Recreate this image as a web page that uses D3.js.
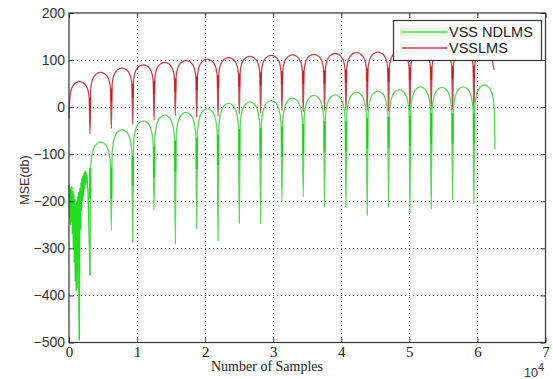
<!DOCTYPE html>
<html>
<head>
<meta charset="utf-8">
<script src="https://cdn.jsdelivr.net/npm/d3@7/dist/d3.min.js"></script>
<style>
  body { margin: 0; background: #fff; }
  svg { display: block; }
</style>
</head>
<body>
<svg width="553" height="379"></svg>
<script>
// Data ========================================================
// x is in samples, y is in dB

var xTicks = [0, 10000, 20000, 30000, 40000, 50000, 60000, 70000];
var yTicks = [200, 100, 0, -100, -200, -300, -400, -500];

// where both curves notch down
var dipSamples = [3085, 6220, 9360, 12490, 15620, 18760, 21890, 25020, 28150, 31280,
                  34410, 37540, 40680, 43810, 46950, 50080, 53210, 56350, 59480];

// VSSLMS (red)
var redStart = [0, -25];
var redEnd = [62440, 79];
var redPeaks = [54, 74, 83, 90, 95, 99, 102, 105, 108, 110, 111, 112, 114, 116, 117, 119, 120, 121, 122, 122];
var redDips = [-57, -45, -36, -28, -17, -22, -19, -14, -12, -7, -9, -7, -6, -7, -9, -10, -6, -6, -9];
// shape of one arch : [fraction of the arch width, dB under the peak]
var redArch = [[0.04, -34], [0.1, -18], [0.2, -8], [0.33, -2.5], [0.5, 0],
               [0.67, -2.5], [0.8, -8], [0.9, -18], [0.96, -34]];

// VSS NDLMS (green)
var greenHead = [[0, -165], [100, -235], [150, -170], [220, -250], [290, -175], [360, -245],
                 [430, -168], [500, -270], [570, -178], [640, -300], [710, -185], [780, -330],
                 [850, -195], [920, -370], [990, -205], [1060, -390], [1130, -200], [1200, -385],
                 [1270, -190], [1340, -320], [1400, -180], [1470, -430], [1513, -496], [1560, -300],
                 [1616, -172], [1689, -260], [1763, -160], [1840, -220], [1910, -150], [1983, -200],
                 [2057, -145], [2130, -190], [2204, -140], [2280, -175], [2350, -135], [2420, -165],
                 [2497, -138], [2570, -160], [2644, -145], [2720, -170], [2791, -175], [2880, -230],
                 [2960, -270]];
var greenEnd = [62580, -90];
var greenPeaks = [-74, -48, -29, -17, -11, -3, 8, 11, 14, 19, 25, 26, 32, 34, 37, 43, 42, 43, 47];
var greenDips = [-357, -262, -287, -219, -290, -258, -283, -247, -247, -201, -191, -212, -212, -230,
                 -212, -224, -216, -196, -205];
var greenArch = [[0.04, -48], [0.1, -26], [0.2, -11], [0.33, -3.5], [0.5, 0],
                 [0.67, -3.5], [0.8, -11], [0.9, -26], [0.96, -48]];

var seriesNames = ["VSS NDLMS", "VSSLMS"];
var seriesColors = ["#5ad65a", "#c2454f"];

// Setup =======================================================

var svg = d3.select("svg");
var margin = { left: 69, right: 545.5, top: 13, bottom: 342.5 };

var x = d3.scaleLinear().domain([0, 70000]).range([margin.left, margin.right]);
var y = d3.scaleLinear().domain([-500, 200]).range([margin.bottom, margin.top]);

var line = d3.line()
    .x(function(d) { return x(d[0]); })
    .y(function(d) { return y(d[1]); })
    .curve(d3.curveMonotoneX);

var rawLine = d3.line()
    .x(function(d) { return x(d[0]); })
    .y(function(d) { return y(d[1]); });

// Helpers =====================================================

// points of one arch between two notches
function archPoints(x0, x1, v0, v1, peak, shape) {
  var pts = [[x0, v0]];
  shape.forEach(function(p) {
    pts.push([x0 + p[0] * (x1 - x0), peak + p[1]]);
  });
  pts.push([x1, v1]);
  return pts;
}

function buildSeries(bounds, values, peaks, shape) {
  var pts = [];
  for (var i = 0; i < peaks.length; i++) {
    var a = archPoints(bounds[i], bounds[i + 1], values[i], values[i + 1], peaks[i], shape);
    if (i > 0) a.shift();
    pts = pts.concat(a);
  }
  return pts;
}

// Grid ========================================================

var grid = svg.append("g").attr("class", "grid")
    .attr("stroke", "#555")
    .attr("stroke-width", 1)
    .attr("stroke-dasharray", "1,3");

grid.selectAll(".vx")
    .data(xTicks.slice(1, -1))
    .enter().append("line")
    .attr("x1", function(d) { return Math.round(x(d)) + 0.5; })
    .attr("x2", function(d) { return Math.round(x(d)) + 0.5; })
    .attr("y1", margin.top)
    .attr("y2", margin.bottom);

grid.selectAll(".hy")
    .data(yTicks.slice(1, -1))
    .enter().append("line")
    .attr("y1", function(d) { return Math.round(y(d)) + 0.5; })
    .attr("y2", function(d) { return Math.round(y(d)) + 0.5; })
    .attr("x1", margin.left)
    .attr("x2", margin.right);

// Curves ======================================================

var redBounds = [redStart[0]].concat(dipSamples).concat([redEnd[0]]);
var redValues = [redStart[1]].concat(redDips).concat([redEnd[1]]);
var redPoints = buildSeries(redBounds, redValues, redPeaks, redArch);

var greenBounds = dipSamples.concat([greenEnd[0]]);
var greenValues = greenDips.concat([greenEnd[1]]);
var greenPoints = buildSeries(greenBounds, greenValues, greenPeaks, greenArch);

svg.append("path")
    .datum(redPoints)
    .attr("fill", "none")
    .attr("stroke", seriesColors[1])
    .attr("stroke-width", 1.3)
    .attr("d", line);

svg.append("path")
    .datum(greenHead.concat([[dipSamples[0], greenDips[0]]]))
    .attr("fill", "none")
    .attr("stroke", "#22dd22")
    .attr("stroke-width", 1.4)
    .attr("d", rawLine);

svg.append("path")
    .datum(greenPoints)
    .attr("fill", "none")
    .attr("stroke", seriesColors[0])
    .attr("stroke-width", 1.3)
    .attr("d", line);

// the busy part of every notch shows up darker
var dense = svg.append("g").attr("class", "dense");
dipSamples.forEach(function(s, i) {
  var rp = Math.min(redPeaks[i], redPeaks[i + 1]);
  dense.append("line")
      .attr("x1", x(s)).attr("x2", x(s))
      .attr("y1", y(rp - 34)).attr("y2", y(rp - 62))
      .attr("stroke", "#d41a1a").attr("stroke-width", 1.8);
  var gp = i == 0 ? greenPeaks[0] : Math.min(greenPeaks[i - 1], greenPeaks[i]);
  dense.append("line")
      .attr("x1", x(s)).attr("x2", x(s))
      .attr("y1", y(gp - 55)).attr("y2", y(Math.max(gp - 120, greenDips[i] + 10)))
      .attr("stroke", "#18d418").attr("stroke-width", 1.8);
});

// Axes ========================================================

var axisColor = "#333";

var xAxis = svg.append("g")
    .attr("transform", "translate(0," + margin.bottom + ")")
    .call(d3.axisBottom(x).tickValues(xTicks).tickSizeInner(-5).tickSizeOuter(0).tickPadding(4)
      .tickFormat(function(d) { return d / 10000; }));
xAxis.selectAll("text")
    .attr("font-family", "'Liberation Serif', 'Times New Roman', serif")
    .attr("font-size", 15)
    .attr("fill", "#222");

var yAxis = svg.append("g")
    .attr("transform", "translate(" + margin.left + ",0)")
    .call(d3.axisLeft(y).tickValues(yTicks).tickSizeInner(-5).tickSizeOuter(0).tickPadding(4));
yAxis.selectAll("text")
    .attr("font-family", "'Liberation Sans', Arial, sans-serif")
    .attr("font-size", 14)
    .attr("fill", "#333");

svg.append("g")
    .attr("transform", "translate(0," + margin.top + ")")
    .call(d3.axisTop(x).tickValues(xTicks).tickSizeInner(-5).tickSizeOuter(0).tickFormat(""));
svg.append("g")
    .attr("transform", "translate(" + margin.right + ",0)")
    .call(d3.axisRight(y).tickValues(yTicks).tickSizeInner(-5).tickSizeOuter(0).tickFormat(""));

svg.selectAll(".domain").remove();
svg.selectAll(".tick line").attr("stroke", axisColor);

svg.append("rect")
    .attr("x", margin.left)
    .attr("y", margin.top)
    .attr("width", margin.right - margin.left)
    .attr("height", margin.bottom - margin.top)
    .attr("fill", "none")
    .attr("stroke", axisColor)
    .attr("stroke-width", 1.2);

// Labels ======================================================

svg.append("text")
    .attr("x", 267)
    .attr("y", 371)
    .attr("text-anchor", "middle")
    .attr("font-family", "'Liberation Serif', 'Times New Roman', serif")
    .attr("font-size", 14)
    .attr("fill", "#222")
    .text("Number of Samples");

var expo = svg.append("text")
    .attr("x", 524)
    .attr("y", 377)
    .attr("font-family", "'Liberation Sans', Arial, sans-serif")
    .attr("font-size", 12.5)
    .attr("fill", "#333");
expo.append("tspan").text("10");
expo.append("tspan").attr("dy", -6).attr("font-size", 11).text("4");

svg.append("text")
    .attr("transform", "translate(28.5,180) rotate(-90)")
    .attr("text-anchor", "middle")
    .attr("font-family", "'Liberation Sans', Arial, sans-serif")
    .attr("font-size", 12.5)
    .attr("fill", "#333")
    .text("MSE(db)");

// Legend ======================================================

var legend = svg.append("g").attr("class", "legend");

legend.append("rect")
    .attr("x", 393.5)
    .attr("y", 20.5)
    .attr("width", 148)
    .attr("height", 40)
    .attr("fill", "#fff")
    .attr("stroke", "#333")
    .attr("stroke-width", 1.2);

seriesNames.forEach(function(name, i) {
  var ly = 32 + i * 16;
  legend.append("line")
      .attr("x1", 402).attr("x2", 447)
      .attr("y1", ly).attr("y2", ly)
      .attr("stroke", seriesColors[i])
      .attr("stroke-width", 1.3);
  legend.append("text")
      .attr("x", 449)
      .attr("y", ly + 5)
      .attr("font-family", "'Liberation Sans', Arial, sans-serif")
      .attr("font-size", 14.5)
      .attr("fill", "#222")
      .text(name);
});
</script>
</body>
</html>
